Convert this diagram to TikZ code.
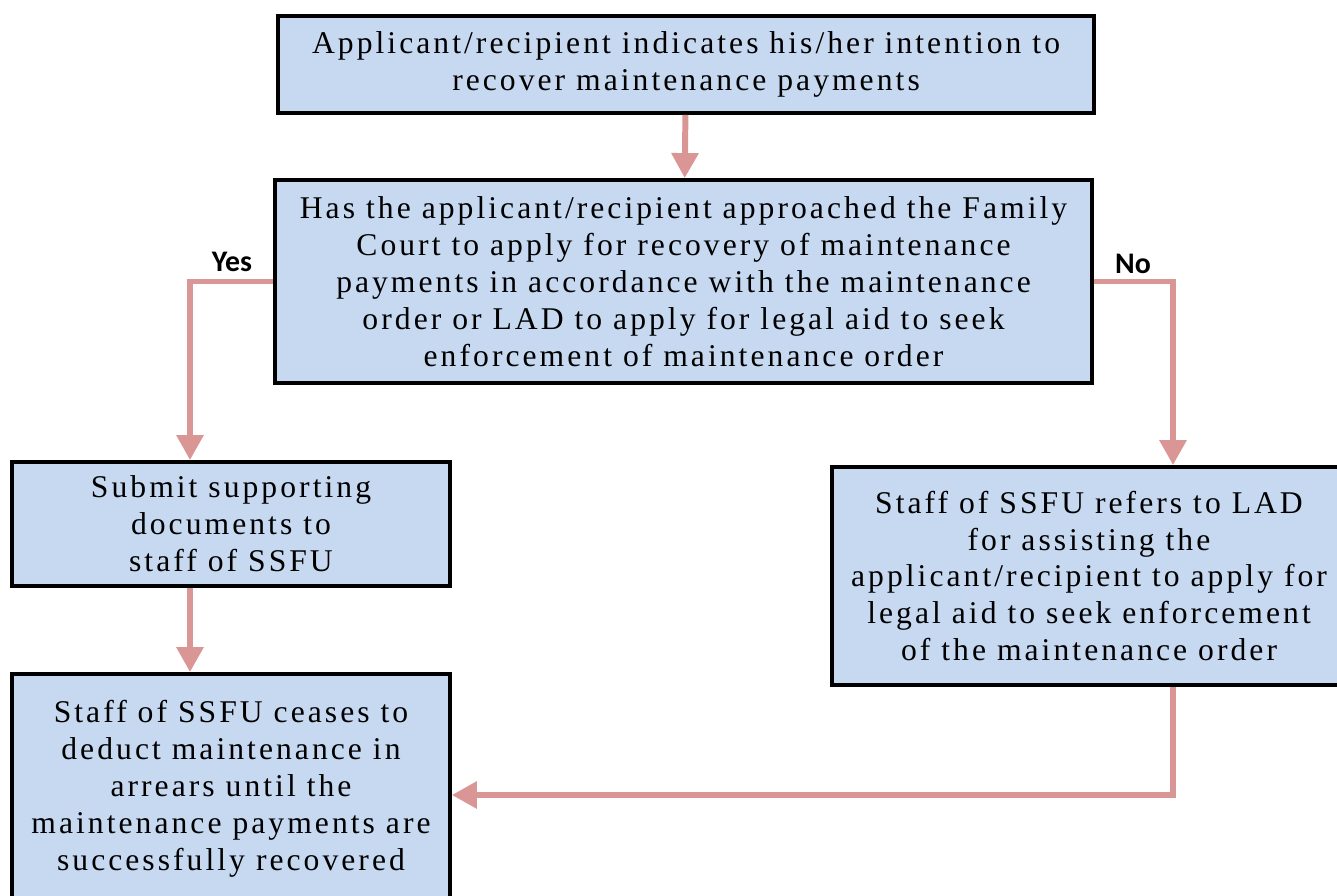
\documentclass[tikz,border=0pt]{standalone}
\usepackage{fontspec}
\setmainfont[LetterSpace=9.6]{Liberation Serif}
\newfontfamily\labfont{Carlito}
\usetikzlibrary{arrows.meta}
\definecolor{boxfill}{HTML}{C6D9F1}
\definecolor{flowline}{HTML}{D99694}
\begin{document}
\begin{tikzpicture}[x=0.02cm,y=-0.02cm,
  stepbox/.style={draw=black,line width=2.2pt,fill=boxfill,align=center,
    font=\fontsize{18}{21}\selectfont,inner sep=0pt},
  flow/.style={draw=flowline,line width=3.4pt,
    -{Triangle[length=0.5cm,width=0.52cm]}},
  answer/.style={font=\labfont\bfseries\fontsize{17}{20}\selectfont}]
\useasboundingbox(0,0)rectangle(1337,895);
\pgfmathsetmacro{\yesx}{190}
\pgfmathsetmacro{\nox}{1173}
\node[stepbox,minimum width=16.32cm,minimum height=1.94cm](intent)at(686,64.5)
  {Applicant/recipient indicates his/her intention to\\recover maintenance payments};
\node[stepbox,minimum width=16.34cm,minimum height=4.06cm](ask)at(683.5,281.5)
  {Has the applicant/recipient approached the Family\\Court to apply for recovery of maintenance\\payments in accordance with the maintenance\\order or LAD to apply for legal aid to seek\\enforcement of maintenance order};
\node[stepbox,minimum width=8.76cm,minimum height=2.48cm](submit)at(231,524)
  {Submit supporting\\documents to\\staff of SSFU};
\node[stepbox,minimum width=8.76cm,minimum height=4.6cm](cease)at(231,789)
  {Staff of SSFU ceases to\\deduct maintenance in\\arrears until the\\maintenance payments are\\successfully recovered};
\node[stepbox,minimum width=10.28cm,minimum height=4.36cm](refer)at(1089,576)
  {Staff of SSFU refers to LAD\\for assisting the\\applicant/recipient to apply for\\legal aid to seek enforcement\\of the maintenance order};
\coordinate(yescol)at(\yesx,0);
\coordinate(nocol)at(\nox,0);
\coordinate(backrow)at(0,795);
\node[answer](yes)at(232,262){Yes};
\node[answer](no)at(1133,264){No};
% connectors
\draw[flow](intent)--(ask);
\draw[flow](ask.west)-|(yescol|-submit.north);
\draw[flow](ask.east)-|(nocol|-refer.north);
\draw[flow](yescol|-submit.south)--(yescol|-cease.north);
\draw[flow](nocol|-refer.south)|-(cease.east|-backrow);
\end{tikzpicture}
\end{document}
